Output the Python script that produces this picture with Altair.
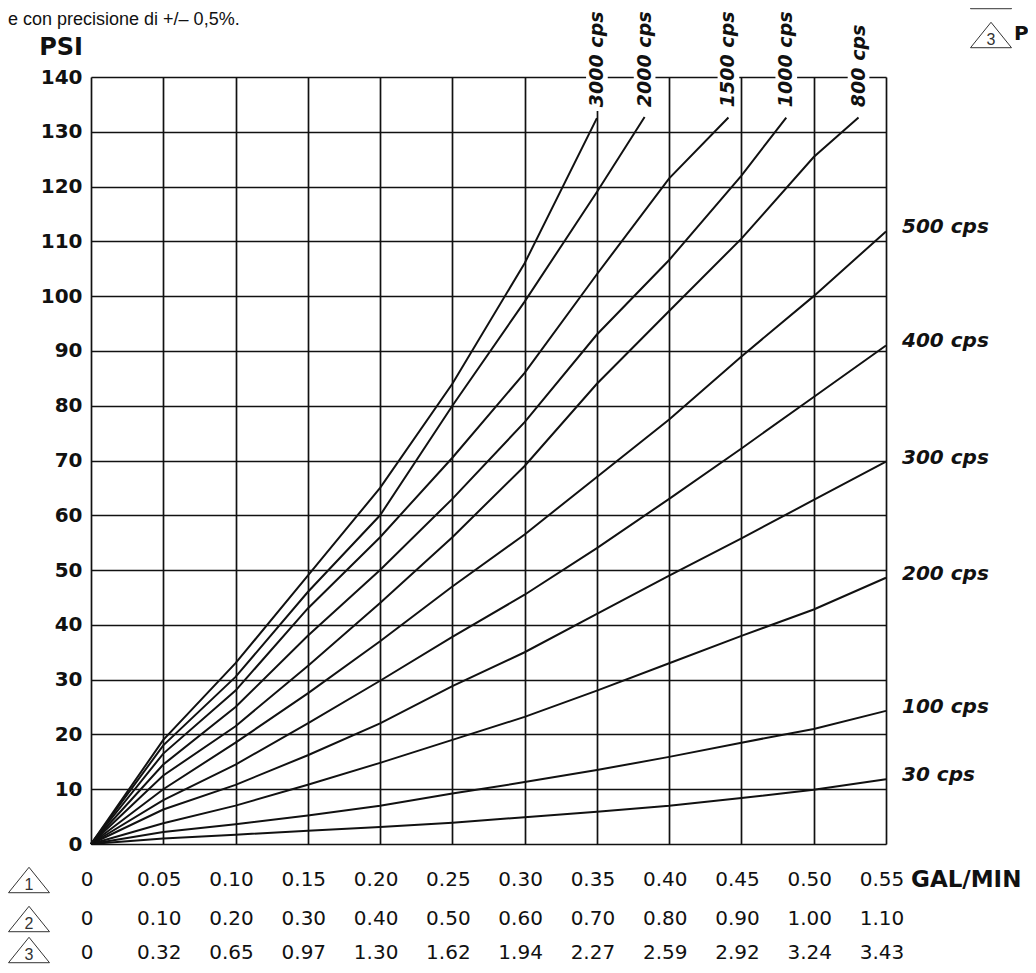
import altair as alt
import pandas as pd

# ---------------- data ----------------
flow = [0.00, 0.05, 0.10, 0.15, 0.20, 0.25, 0.30, 0.35, 0.40, 0.45, 0.50, 0.55]
row1_labels = ["0", "0.05", "0.10", "0.15", "0.20", "0.25", "0.30", "0.35", "0.40", "0.45", "0.50", "0.55"]
row2_labels = ["0", "0.10", "0.20", "0.30", "0.40", "0.50", "0.60", "0.70", "0.80", "0.90", "1.00", "1.10"]
row3_labels = ["0", "0.32", "0.65", "0.97", "1.30", "1.62", "1.94", "2.27", "2.59", "2.92", "3.24", "3.43"]
psi_ticks = [0, 10, 20, 30, 40, 50, 60, 70, 80, 90, 100, 110, 120, 130, 140]

# curves that run to the right edge (values at each flow step)
psi_30 = [0, 1.0, 1.7, 2.4, 3.1, 3.9, 4.9, 5.9, 7.0, 8.4, 9.9, 11.8]
psi_100 = [0, 2.2, 3.6, 5.2, 7.0, 9.2, 11.3, 13.5, 15.9, 18.5, 21.0, 24.3]
psi_200 = [0, 3.8, 7.0, 10.8, 14.8, 19.0, 23.2, 28.0, 33.0, 38.0, 42.8, 48.6]
psi_300 = [0, 6.3, 10.8, 16.2, 22.0, 28.8, 35.0, 42.0, 49.0, 55.8, 62.8, 69.8]
psi_400 = [0, 8.0, 14.5, 22.0, 29.8, 37.8, 45.5, 54.0, 63.0, 72.2, 81.6, 91.0]
psi_500 = [0, 10.0, 18.5, 27.5, 37.0, 47.0, 56.5, 67.0, 77.5, 89.0, 100.0, 111.8]
right_names = ["30 cps", "100 cps", "200 cps", "300 cps", "400 cps", "500 cps"]

# curves that run out of the top (values at flow steps, then an end point)
psi_800 = [0, 12.5, 21.5, 32.5, 44.0, 56.0, 69.0, 84.0, 97.3, 110.5, 125.4]
psi_1000 = [0, 14.5, 25.0, 38.0, 50.0, 63.0, 77.0, 93.0, 106.6, 122.0]
psi_1500 = [0, 16.5, 28.0, 43.0, 56.0, 70.5, 86.0, 104.0, 121.5]
psi_2000 = [0, 18.0, 30.5, 46.0, 60.0, 80.0, 99.0, 119.0]
psi_3000 = [0, 19.0, 33.0, 49.0, 65.0, 84.0, 106.0]
top_names = ["800 cps", "1000 cps", "1500 cps", "2000 cps", "3000 cps"]
top_end_flow = [0.531, 0.481, 0.441, 0.383, 0.350]
top_end_psi = [132.6, 132.6, 132.6, 132.7, 132.5]

# ---------------- tables ----------------
rows = []
for name, vals in zip(right_names, [psi_30, psi_100, psi_200, psi_300, psi_400, psi_500]):
    for i, v in enumerate(vals):
        rows.append({"flow": flow[i], "psi": v, "curve": name, "idx": i})
for name, vals, ef, ep in zip(top_names, [psi_800, psi_1000, psi_1500, psi_2000, psi_3000],
                              top_end_flow, top_end_psi):
    for i, v in enumerate(vals):
        rows.append({"flow": flow[i], "psi": v, "curve": name, "idx": i})
    rows.append({"flow": ef, "psi": ep, "curve": name, "idx": len(vals)})
lines_df = pd.DataFrame(rows)

right_df = pd.DataFrame({
    "flow": [0.55] * len(right_names),
    "psi": [s[-1] for s in [psi_30, psi_100, psi_200, psi_300, psi_400, psi_500]],
    "label": right_names,
})
top_df = pd.DataFrame({
    "flow": top_end_flow,
    "psi": [134.5] * len(top_names),
    "label": top_names,
})
mask_df = pd.DataFrame({
    "x0": [f - 0.0075 for f in top_end_flow],
    "x1": [f + 0.0075 for f in top_end_flow],
    "y0": [133.8] * len(top_names),
    "y1": [147.0] * len(top_names),
})

INK = "#111111"
W, H = 795, 767

xscale = alt.Scale(domain=[0, 0.55], nice=False, zero=False)
yscale = alt.Scale(domain=[0, 140], nice=False, zero=False)
xaxis = alt.Axis(values=flow, grid=True, gridColor=INK, gridWidth=1.7, gridOpacity=1,
                 labels=False, ticks=False, domain=False, title=None)
yaxis = alt.Axis(values=psi_ticks, grid=True, gridColor=INK, gridWidth=1.7, gridOpacity=1,
                 labelFont="DejaVu Sans", labelFontWeight="bold", labelFontSize=20,
                 labelColor=INK, labelPadding=9, ticks=False, domain=False, title=None)


def X(field):
    return alt.X(field, scale=xscale, axis=xaxis)


def Y(field):
    return alt.Y(field, scale=yscale, axis=yaxis)


curves = alt.Chart(lines_df).mark_line(color=INK, strokeWidth=2).encode(
    x=X("flow:Q"), y=Y("psi:Q"), detail="curve:N", order="idx:Q")

masks = alt.Chart(mask_df).mark_rect(color="white").encode(
    x=X("x0:Q"), x2="x1:Q", y=Y("y0:Q"), y2="y1:Q")

top_text = alt.Chart(top_df).mark_text(
    angle=270, align="left", baseline="middle", font="DejaVu Sans",
    fontWeight="bold", fontStyle="italic", fontSize=19, color=INK).encode(
    x=X("flow:Q"), y=Y("psi:Q"), text="label:N")

right_text = alt.Chart(right_df).mark_text(
    align="left", baseline="middle", dx=16, dy=-4, font="DejaVu Sans",
    fontWeight="bold", fontStyle="italic", fontSize=20, color=INK).encode(
    x=X("flow:Q"), y=Y("psi:Q"), text="label:N")

row_y = [803, 842, 876]
row_layers = []
for labels, ry in zip([row1_labels, row2_labels, row3_labels], row_y):
    rdf = pd.DataFrame({"flow": flow, "label": labels})
    row_layers.append(
        alt.Chart(rdf).mark_text(align="center", baseline="middle", dx=-4,
                                 font="DejaVu Sans", fontSize=20, color=INK).encode(
            x=X("flow:Q"), y=alt.value(ry), text="label:N"))

unit_df = pd.DataFrame({"flow": [0.55], "label": ["GAL/MIN"]})
unit_text = alt.Chart(unit_df).mark_text(
    align="left", baseline="middle", dx=25, font="DejaVu Sans", fontWeight="bold",
    fontSize=23, color=INK).encode(x=X("flow:Q"), y=alt.value(803), text="label:N")

TRI = "M0,-0.62L1,0.62L-1,0.62Z"
tri_layers = []
tri_specs = [("1", -62, 803, True), ("2", -62, 842, True), ("3", -62, 873, True),
             ("3", 900, -42, True), ("2", 900, -81, False)]
for num, tx, ty, show_num in tri_specs:
    d = pd.DataFrame({"n": [num]})
    tri_layers.append(alt.Chart(d).mark_point(shape=TRI, size=1681, filled=False,
                                              stroke="#333333", strokeWidth=1, opacity=1).encode(
        x=alt.value(tx), y=alt.value(ty)))
    if show_num:
        tri_layers.append(alt.Chart(d).mark_text(align="center", baseline="middle",
                                                 font="Liberation Sans", fontSize=16,
                                                 color="#333333").encode(
            x=alt.value(tx), y=alt.value(ty + 5), text="n:N"))

extra_df = pd.DataFrame({"label": ["PSI"]})
psi_title = alt.Chart(extra_df).mark_text(
    align="right", baseline="middle", font="DejaVu Sans", fontWeight="bold",
    fontSize=24, color=INK).encode(x=alt.value(-8), y=alt.value(-29), text="label:N")

p_df = pd.DataFrame({"label": ["P"]})
p_text = alt.Chart(p_df).mark_text(
    align="left", baseline="middle", font="DejaVu Sans", fontWeight="bold",
    fontSize=20, color=INK).encode(x=alt.value(923), y=alt.value(-43), text="label:N")

note_df = pd.DataFrame({"label": ["e con precisione di +/– 0,5%."]})
note_text = alt.Chart(note_df).mark_text(
    align="left", baseline="middle", font="Liberation Sans", fontSize=18,
    color=INK).encode(x=alt.value(-83), y=alt.value(-57), text="label:N")

chart = alt.layer(
    curves, masks, top_text, right_text, *row_layers, unit_text, *tri_layers,
    psi_title, p_text, note_text
).properties(
    width=W, height=H,
    autosize=alt.AutoSizeParams(type="none"),
    padding={"left": 83, "top": 69, "right": 142, "bottom": 121},
).configure_view(stroke=None).configure(background="white")

chart.save("out.html", embed_options={"renderer": "svg", "actions": False})
